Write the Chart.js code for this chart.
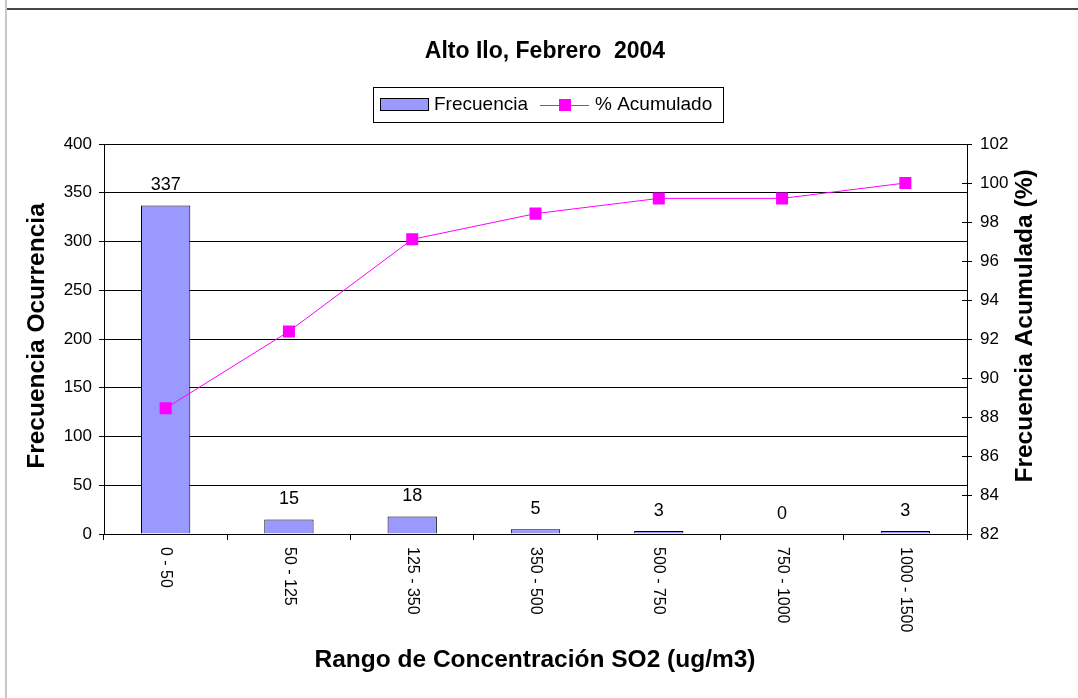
<!DOCTYPE html>
<html>
<head>
<meta charset="utf-8">
<script src="https://cdn.jsdelivr.net/npm/chart.js@4.4.0/dist/chart.umd.min.js"></script>
<style>
  html, body { margin: 0; padding: 0; background: #fff; }
  canvas { display: block; }
</style>
</head>
<body>
<canvas id="chart" width="1078" height="698"></canvas>
<script>
const categories = ["0 - 50", "50 - 125", "125 - 350", "350 - 500", "500 - 750", "750 - 1000", "1000 - 1500"];
const frecuencia = [337, 15, 18, 5, 3, 0, 3];
const acumulado = [88.45, 92.39, 97.11, 98.43, 99.21, 99.21, 100];
const leftAxis = [0, 400, 50];   // min, max, step
const rightAxis = [82, 102, 2];

const FONT = "'Liberation Sans', Arial, sans-serif";
const BAR_COLOR = "#9999ff";
const LINE_COLOR = "#ff00ff";

// everything Excel draws outside the plot: frame, title, legend, axis titles, labels
const extras = {
  id: "extras",
  beforeDraw(chart) {
    const ctx = chart.ctx;
    ctx.save();
    ctx.fillStyle = "#fff";
    ctx.fillRect(0, 0, chart.width, chart.height);
    ctx.fillStyle = "#c8c8c8";
    ctx.fillRect(5, 0, 2, chart.height);
    ctx.fillStyle = "#474747";
    ctx.fillRect(7, 8, chart.width - 7, 2);
    ctx.restore();
  },
  afterDraw(chart) {
    const ctx = chart.ctx;
    const x = chart.scales.x, y = chart.scales.y, y1 = chart.scales.y1;
    ctx.save();
    ctx.fillStyle = "#000";

    // title
    ctx.font = "bold 23px " + FONT;
    ctx.textAlign = "center";
    ctx.textBaseline = "middle";
    ctx.fillText("Alto Ilo, Febrero  2004", 545, 52);

    // legend
    ctx.strokeStyle = "#000";
    ctx.lineWidth = 1;
    ctx.strokeRect(373.5, 87.5, 350, 35);
    ctx.fillStyle = BAR_COLOR;
    ctx.fillRect(380.5, 98.5, 48, 12);
    ctx.strokeRect(380.5, 98.5, 48, 12);
    ctx.strokeStyle = LINE_COLOR;
    ctx.beginPath();
    ctx.moveTo(540, 105.5);
    ctx.lineTo(589, 105.5);
    ctx.stroke();
    ctx.fillStyle = LINE_COLOR;
    ctx.fillRect(559, 99, 12, 12);
    ctx.fillStyle = "#000";
    ctx.font = "19px " + FONT;
    ctx.textAlign = "left";
    ctx.fillText("Frecuencia", 434, 105);
    ctx.fillText("% Acumulado", 595, 105);

    // axis titles
    ctx.font = "bold 24.5px " + FONT;
    ctx.textAlign = "center";
    ctx.fillText("Rango de Concentración SO2 (ug/m3)", 535, 660);
    ctx.save();
    ctx.translate(37, 336);
    ctx.rotate(-Math.PI / 2);
    ctx.fillText("Frecuencia Ocurrencia", 0, 0);
    ctx.restore();
    ctx.save();
    ctx.translate(1025, 326);
    ctx.rotate(-Math.PI / 2);
    ctx.fillText("Frecuencia Acumulada (%)", 0, 0);
    ctx.restore();

    // category labels, turned clockwise
    ctx.font = "16px " + FONT;
    ctx.textAlign = "left";
    categories.forEach((c, i) => {
      ctx.save();
      ctx.translate(x.getPixelForValue(i), y.bottom + 13);
      ctx.rotate(Math.PI / 2);
      ctx.fillText(c, 0, 0);
      ctx.restore();
    });

    // value labels over the bars
    ctx.font = "18px " + FONT;
    ctx.textAlign = "center";
    frecuencia.forEach((v, i) => {
      ctx.fillText(String(v), x.getPixelForValue(i), y.getPixelForValue(v) - 20);
    });

    // cross tick marks on the right axis
    ctx.strokeStyle = "#000";
    ctx.beginPath();
    y1.ticks.forEach(t => {
      const py = Math.round(y1.getPixelForValue(t.value)) + 0.5;
      ctx.moveTo(y1.left - 5, py);
      ctx.lineTo(y1.left + 5, py);
    });
    ctx.stroke();
    ctx.restore();
  }
};

new Chart(document.getElementById("chart"), {
  data: {
    labels: categories,
    datasets: [
      {
        type: "line",
        label: "% Acumulado",
        data: acumulado,
        yAxisID: "y1",
        order: 0,
        borderColor: LINE_COLOR,
        borderWidth: 1,
        backgroundColor: LINE_COLOR,
        pointStyle: "rect",
        pointRadius: 8.5,
        pointBorderWidth: 0,
        pointBackgroundColor: LINE_COLOR,
        tension: 0
      },
      {
        type: "bar",
        label: "Frecuencia",
        data: frecuencia,
        yAxisID: "y",
        order: 1,
        backgroundColor: BAR_COLOR,
        borderColor: "#000",
        borderWidth: 1,
        categoryPercentage: 1,
        barPercentage: 0.4
      }
    ]
  },
  options: {
    responsive: false,
    animation: false,
    events: [],
    layout: { padding: { top: 144, left: 0, right: 0, bottom: 0 } },
    plugins: {
      legend: { display: false },
      title: { display: false },
      tooltip: { enabled: false }
    },
    scales: {
      x: {
        offset: true,
        grid: { offset: true, drawOnChartArea: false, color: "#000", tickLength: 6 },
        border: { color: "#000", width: 1 },
        ticks: { display: false },
        afterFit(s) { s.height = 164; }
      },
      y: {
        position: "left",
        min: leftAxis[0],
        max: leftAxis[1],
        ticks: { stepSize: leftAxis[2], color: "#000", padding: 7, font: { family: FONT, size: 17 } },
        grid: { color: "#000", tickLength: 5 },
        border: { color: "#000", width: 1 },
        afterFit(s) { s.width = 104; }
      },
      y1: {
        position: "right",
        min: rightAxis[0],
        max: rightAxis[1],
        ticks: { stepSize: rightAxis[2], color: "#000", padding: 13, font: { family: FONT, size: 17 } },
        grid: { display: false, drawTicks: false },
        border: { color: "#000", width: 1 },
        afterFit(s) { s.width = 111; }
      }
    }
  },
  plugins: [extras]
});
</script>
</body>
</html>
